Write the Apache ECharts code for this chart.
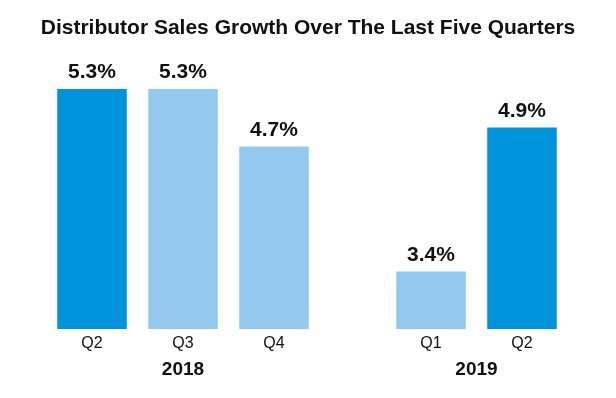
<!DOCTYPE html>
<html><head><meta charset="utf-8">
<script src="https://cdn.jsdelivr.net/npm/echarts@6/dist/echarts.min.js"></script>
<style>html,body{margin:0;padding:0;background:#fff}#c{width:616px;height:398px}</style>
</head><body><div id="c"></div>
<script>
const title = 'Distributor Sales Growth Over The Last Five Quarters';
const years = ['2018', '2019'];
const quarters2018 = ['Q2', 'Q3', 'Q4'];
const values2018 = [5.3, 5.3, 4.7];
const quarters2019 = ['Q1', 'Q2'];
const values2019 = [3.4, 4.9];
const dark = '#0093dc', light = '#93c9ee';
const colors2018 = [dark, light, light];
const colors2019 = [light, dark];

const font = '"Liberation Sans", Arial, sans-serif';
const chart = echarts.init(document.getElementById('c'));
function xAx(gi, cats, name) {
  return {
    type: 'category', gridIndex: gi, data: cats,
    axisLine: {show: false}, axisTick: {show: false},
    axisLabel: {color: '#111', fontSize: 16, fontFamily: font, margin: 7},
    name: name, nameLocation: 'middle', nameGap: 31,
    nameTextStyle: {color: '#111', fontSize: 19, fontWeight: 'bold', fontFamily: font}
  };
}
function yAx(gi) {
  return {type: 'value', gridIndex: gi, min: 2.8, max: 5.3, show: false, splitLine: {show: false}};
}
function ser(gi, vals, cols) {
  return {
    type: 'bar', xAxisIndex: gi, yAxisIndex: gi, barCategoryGap: '23.6%',
    data: vals.map((v, i) => ({value: v, itemStyle: {color: cols[i]}})),
    label: {show: true, position: 'top', distance: 6, formatter: p => p.value.toFixed(1) + '%',
      color: '#111', fontSize: 21, fontWeight: 'bold', fontFamily: font}
  };
}
chart.setOption({
  animation: false,
  title: {text: title, left: 'center', top: 13,
    textStyle: {color: '#111', fontSize: 21, fontWeight: 'bold', fontFamily: font}},
  grid: [
    {left: 46.5, width: 273, top: 89, bottom: 69},
    {left: 385.5, width: 182, top: 89, bottom: 69}
  ],
  xAxis: [xAx(0, quarters2018, years[0]), xAx(1, quarters2019, years[1])],
  yAxis: [yAx(0), yAx(1)],
  series: [ser(0, values2018, colors2018), ser(1, values2019, colors2019)]
});
</script></body></html>
